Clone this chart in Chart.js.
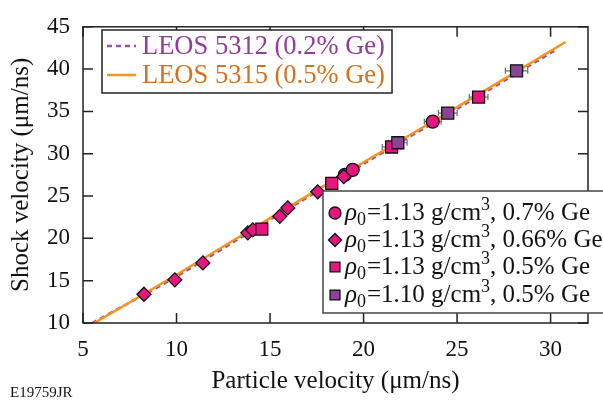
<!DOCTYPE html>
<html>
<head>
<meta charset="utf-8">
<script src="https://cdn.jsdelivr.net/npm/chart.js@4/dist/chart.umd.min.js"></script>
<style>
  html, body { margin: 0; padding: 0; background: #fff; }
  #wrap { width: 603px; height: 404px; }
</style>
</head>
<body>
<div id="wrap"><canvas id="hugoniot" width="603" height="404"></canvas></div>
<script>
// axis ticks
const xTicks = [5, 10, 15, 20, 25, 30];
const yTicks = [10, 15, 20, 25, 30, 35, 40, 45];

// LEOS model curves
const leos5312X = [5.5, 10, 15, 20, 25, 30.3];
const leos5312Y = [10, 15.5, 22.2, 28.8, 35.3, 42.3];
const leos5315X = [5.6, 10, 15, 20, 25, 30.8];
const leos5315Y = [10, 15.7, 22.4, 29.0, 35.5, 43.2];

// measurements
const circleX = [19.0, 19.42, 23.7];
const circleY = [27.5, 28.1, 33.8];
const circleErr = [0, 0, 0.45];

const diamondX = [8.26, 9.91, 11.41, 13.81, 14.08, 15.52, 15.95, 17.55, 18.94];
const diamondY = [13.4, 15.1, 17.1, 20.65, 21.0, 22.6, 23.6, 25.5, 27.3];

const pinkSqX = [14.56, 18.3, 21.5, 26.15];
const pinkSqY = [21.1, 26.5, 30.8, 36.7];
const pinkSqErr = [0, 0, 0.5, 0.5];

const purpleSqX = [21.83, 24.5, 28.18];
const purpleSqY = [31.3, 34.8, 39.8];
const purpleSqErr = [0.5, 0.5, 0.6];

const PINK = '#e5177e';
const PURPLE = '#8c4596';
const ORANGE = '#f7941d';
const DASHPURPLE = '#9a50a8';
const SERIF = "'Liberation Serif', 'DejaVu Serif', serif";

function pts(xs, ys) {
    return xs.map((x, i) => ({ x: x, y: ys[i] }));
}

const markerSets = [
    { label: 'ρ0=1.13 g/cm3, 0.7% Ge', style: 'circle', color: PINK, radius: 6.5, xs: circleX, ys: circleY, err: circleErr },
    { label: 'ρ0=1.13 g/cm3, 0.66% Ge', style: 'rectRot', color: PINK, radius: 7, xs: diamondX, ys: diamondY, err: null },
    { label: 'ρ0=1.13 g/cm3, 0.5% Ge', style: 'rect', color: PINK, radius: 8.5, xs: pinkSqX, ys: pinkSqY, err: pinkSqErr },
    { label: 'ρ0=1.10 g/cm3, 0.5% Ge', style: 'rect', color: PURPLE, radius: 8.5, xs: purpleSqX, ys: purpleSqY, err: purpleSqErr }
];

const legendRows = [
    { density: '1.13', ge: '0.7% Ge' },
    { density: '1.13', ge: '0.66% Ge' },
    { density: '1.13', ge: '0.5% Ge' },
    { density: '1.10', ge: '0.5% Ge' }
];

// horizontal error bars, drawn under the markers
const errorBars = {
    id: 'errorBars',
    beforeDatasetsDraw(chart) {
        const ctx = chart.ctx;
        const xs = chart.scales.x, ys = chart.scales.y;
        ctx.save();
        ctx.strokeStyle = '#6d6d6d';
        ctx.lineWidth = 1.2;
        markerSets.forEach(set => {
            if (!set.err) return;
            set.err.forEach((e, i) => {
                if (!e) return;
                const y = ys.getPixelForValue(set.ys[i]);
                const x0 = xs.getPixelForValue(set.xs[i] - e);
                const x1 = xs.getPixelForValue(set.xs[i] + e);
                ctx.beginPath();
                ctx.moveTo(x0, y); ctx.lineTo(x1, y);
                ctx.moveTo(x0, y - 3); ctx.lineTo(x0, y + 3);
                ctx.moveTo(x1, y - 3); ctx.lineTo(x1, y + 3);
                ctx.stroke();
            });
        });
        ctx.restore();
    }
};

// frame with inward ticks on all sides, both legends, and the figure id
const decorations = {
    id: 'decorations',
    afterDraw(chart) {
        const ctx = chart.ctx;
        const a = chart.chartArea;
        const xs = chart.scales.x, ys = chart.scales.y;
        const tl = 10;
        ctx.save();
        ctx.strokeStyle = '#222';
        ctx.lineWidth = 1.5;
        ctx.beginPath();
        xTicks.forEach(v => {
            const px = xs.getPixelForValue(v);
            ctx.moveTo(px, a.bottom); ctx.lineTo(px, a.bottom - tl);
            ctx.moveTo(px, a.top); ctx.lineTo(px, a.top + tl);
        });
        yTicks.forEach(v => {
            const py = ys.getPixelForValue(v);
            ctx.moveTo(a.left, py); ctx.lineTo(a.left + tl, py);
            ctx.moveTo(a.right, py); ctx.lineTo(a.right - tl, py);
        });
        ctx.stroke();
        ctx.strokeRect(a.left, a.top, a.right - a.left, a.bottom - a.top);

        // top-left legend
        ctx.fillStyle = '#fff';
        ctx.fillRect(102, 30, 290, 63);
        ctx.strokeStyle = '#222';
        ctx.lineWidth = 1.5;
        ctx.strokeRect(102, 30, 290, 63);
        ctx.lineWidth = 2.5;
        ctx.strokeStyle = DASHPURPLE;
        ctx.setLineDash([5, 4]);
        ctx.beginPath(); ctx.moveTo(107, 46); ctx.lineTo(136, 46); ctx.stroke();
        ctx.setLineDash([]);
        ctx.strokeStyle = ORANGE;
        ctx.beginPath(); ctx.moveTo(107, 75); ctx.lineTo(136, 75); ctx.stroke();
        ctx.font = '26.5px ' + SERIF;
        ctx.textBaseline = 'middle';
        ctx.textAlign = 'left';
        ctx.fillStyle = '#8e3d99';
        ctx.fillText('LEOS 5312 (0.2% Ge)', 142, 47);
        ctx.fillStyle = '#d4701f';
        ctx.fillText('LEOS 5315 (0.5% Ge)', 142, 76);

        // bottom-right legend
        ctx.fillStyle = '#fff';
        ctx.fillRect(323, 191, 285, 122);
        ctx.strokeStyle = '#444';
        ctx.lineWidth = 1.5;
        ctx.strokeRect(323, 191, 285, 122);
        const rowY = [213, 240, 267, 295];
        legendRows.forEach((row, i) => {
            const set = markerSets[i];
            const y = rowY[i];
            ctx.fillStyle = set.color;
            ctx.strokeStyle = '#111';
            ctx.lineWidth = 1.3;
            Chart.helpers.drawPoint(ctx, {
                pointStyle: set.style,
                radius: set.style === 'rect' ? 7 : set.radius - 0.5,
                borderWidth: 1.3
            }, 335, y);
            ctx.fillStyle = '#111';
            let x = 345;
            ctx.font = 'italic 25px ' + SERIF;
            ctx.fillText('ρ', x, y);
            x += ctx.measureText('ρ').width;
            ctx.font = '18px ' + SERIF;
            ctx.fillText('0', x, y + 7);
            x += ctx.measureText('0').width + 1;
            ctx.font = '25px ' + SERIF;
            const mid = '=' + row.density + ' g/cm';
            ctx.fillText(mid, x, y);
            x += ctx.measureText(mid).width;
            ctx.font = '18px ' + SERIF;
            ctx.fillText('3', x, y - 8);
            x += ctx.measureText('3').width;
            ctx.font = '25px ' + SERIF;
            ctx.fillText(', ' + row.ge, x, y);
        });

        ctx.font = '15px ' + SERIF;
        ctx.fillStyle = '#111';
        ctx.fillText('E19759JR', 10, 393);
        ctx.restore();
    }
};

const lineSets = [
    {
        label: 'LEOS 5312 (0.2% Ge)',
        data: pts(leos5312X, leos5312Y),
        showLine: true,
        borderColor: DASHPURPLE,
        borderWidth: 2.5,
        borderDash: [5, 4],
        pointRadius: 0,
        tension: 0.3,
        order: 10
    },
    {
        label: 'LEOS 5315 (0.5% Ge)',
        data: pts(leos5315X, leos5315Y),
        showLine: true,
        borderColor: ORANGE,
        borderWidth: 2.5,
        pointRadius: 0,
        tension: 0.3,
        order: 9
    }
];

const scatterSets = markerSets.map((set, i) => ({
    label: set.label,
    data: pts(set.xs, set.ys),
    pointStyle: set.style,
    pointRadius: set.radius,
    backgroundColor: set.color,
    borderColor: '#111',
    borderWidth: 1.3,
    showLine: false,
    order: 4 - i
}));

new Chart(document.getElementById('hugoniot').getContext('2d'), {
    type: 'scatter',
    data: { datasets: lineSets.concat(scatterSets) },
    options: {
        responsive: false,
        animation: false,
        layout: { padding: { left: 0, top: 14, right: 15, bottom: 0 } },
        plugins: {
            legend: { display: false },
            tooltip: { enabled: false }
        },
        scales: {
            x: {
                type: 'linear',
                min: 5,
                max: 32,
                afterBuildTicks: scale => { scale.ticks = xTicks.map(v => ({ value: v })); },
                afterFit: scale => { scale.height = 81; },
                grid: { display: false, drawTicks: false },
                border: { display: false },
                ticks: { color: '#111', padding: 13, font: { family: SERIF, size: 23 } },
                title: {
                    display: true,
                    text: 'Particle velocity (μm/ns)',
                    color: '#111',
                    font: { family: SERIF, size: 25 },
                    padding: { top: 0, bottom: 8 }
                }
            },
            y: {
                type: 'linear',
                min: 10,
                max: 45,
                afterBuildTicks: scale => { scale.ticks = yTicks.map(v => ({ value: v })); },
                afterFit: scale => { scale.width = 83; },
                grid: { display: false, drawTicks: false },
                border: { display: false },
                ticks: { color: '#111', padding: 13, font: { family: SERIF, size: 23 } },
                title: {
                    display: true,
                    text: 'Shock velocity (μm/ns)',
                    color: '#111',
                    font: { family: SERIF, size: 25 },
                    padding: { top: 6, bottom: 0 }
                }
            }
        }
    },
    plugins: [errorBars, decorations]
});
</script>
</body>
</html>
